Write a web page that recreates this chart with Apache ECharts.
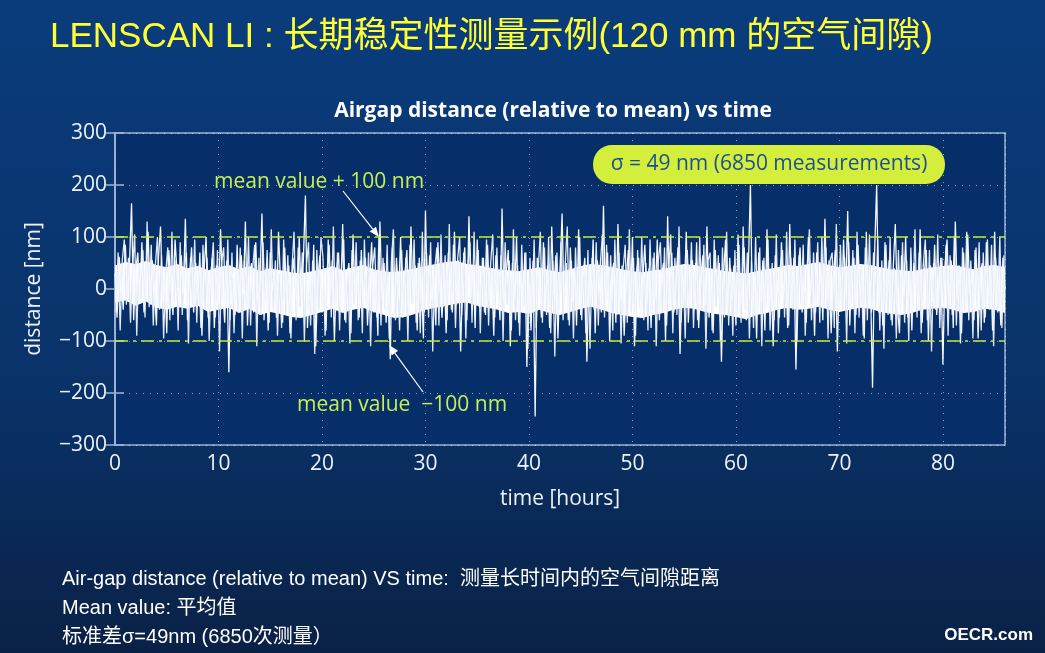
<!DOCTYPE html>
<html>
<head>
<meta charset="utf-8">
<script src="https://cdn.jsdelivr.net/npm/echarts@6/dist/echarts.min.js"></script>
<style>
html, body { margin: 0; padding: 0; background: #0a2d62; }
#chart { width: 1045px; height: 653px; }
</style>
</head>
<body>
<div id="chart"></div>
<script>
// 数据区, two interleaved sample sets (every 0.2 h, offset by 0.1 h)
const hoursPerSample = 0.2;
const distanceNm = [
  30, -55, 62, 10, -40, 85, -20, 48, 165, -60, 35, 70, -15, 90, -45, 25, 110, -30, 55, 5,
  -70, 60, 120, -25, 40, -85, 75, 15, -50, 95, 30, -35, 65, -10, 135, -60, 20, 80, -45, 50,
  -20, 70, -90, 35, 100, -55, 10, 60, -75, 45, -30, 115, 0, -65, 55, -160, 40, 20, -50, 85,
  -35, 65, -10, 130, -70, 25, 50, -45, 90, -25, 15, 145, -60, 40, -80, 70, -5, 35, -55, 110,
  10, -65, 80, -30, 45, -95, 60, 25, -40, 100, -20, 55, 180, -75, 30, -50, 85, -110, 20, 65,
  -45, 40, -80, 95, -15, 55, -100, 30, 70, -35, 125, -60, 15, 50, -85, 105, -25, 40, -55, 75,
  -30, 60, -70, 15, 90, -45, 35, -90, 130, -20, 50, -65, 25, -135, 80, -40, 60, -15, 100, -55,
  20, 75, -50, 120, -25, 45, -80, 60, 10, -95, 150, -40, 65, -20, 35, -70, 90, 5, -55, 40,
  -85, 70, 25, -45, 110, -30, 55, -120, 35, 80, -60, 140, -15, 45, -75, 95, -35, 20, 60, -50,
  85, -25, 40, -90, 65, 10, -60, 155, -40, 30, 75, -110, 50, -20, 100, -65, 35, -45, 70, -150,
  25, -80, 55, -245, 60, 15, -55, 90, -30, 45, -75, 120, -10, 65, -95, 30, 145, -40, 50, -60,
  80, -25, 35, -70, 115, -50, 20, 60, -140, 40, -15, 95, -85, 55, 10, -45, 160, -35, 70, -100,
  30, 50, -65, 125, -20, 45, -90, 15, 75, -40, 100, -110, 35, 60, -55, 20, 85, -30, 40, -75,
  60, -15, 95, -60, 25, 50, -100, 140, -35, 70, -45, 15, 80, -125, 40, -20, 110, -65, 30, 55,
  -40, 90, -75, 20, 65, -30, 120, -55, 35, -85, 75, -10, 50, -140, 25, 95, -45, 60, -20, 45,
  -70, 105, -35, 15, 80, -60, 40, 200, -50, 25, -95, 70, -25, 55, -80, 115, -40, 30, -110, 65,
  10, -55, 90, -20, 45, -75, 125, -35, 60, -155, 30, 80, -45, 20, -65, 100, -15, 50, -90, 70,
  -30, 40, -60, 135, -25, 55, -85, 20, 75, -120, 45, -40, 95, -10, 150, -70, 35, 60, -50, 85,
  -20, 45, -95, 110, -35, 15, -190, 70, 200, -45, 30, -70, 90, -25, 55, -60, 40, 125, -30, -85,
  65, -15, 100, -55, 35, -80, 50, 20, -40, 115, -65, 30, 75, -100, 45, -25, 85, -50, 10, 60,
  -145, 40, 95, -30, 55, -75, 130, -20, 45, -85, 70, -40, 105, -10, 35, -60, 80, -95, 25, 50,
  -65, 90, -30, 45, -80, 110, -40, 20, -70, 60, 0
];
const distanceNmB = [
  -45, 70, -80, 55, 95, -30, 60, -65, 40, 105, -90, 50, -20, 75, -55, 130, -35, 85, -70, 45,
  100, -40, 65, -95, 30, 80, -60, 110, -25, 55, -80, 90, -50, 40, 70, -105, 60, -30, 95, -65,
  45, -75, 85, -40, 60, -100, 35, 90, -55, 75, -120, 50, 80, -35, 95, -60, 70, -85, 40, -45,
  80, -95, 55, -30, 100, -70, 40, 85, -110, 60, -50, 90, -25, 75, -65, 115, -40, 55, -90, 30,
  -75, 95, -50, 65, -85, 40, 110, -60, 80, -35, 70, -100, 45, 90, -70, 55, -125, 75, -40, 100,
  60, -90, 35, 85, -55, 120, -45, 70, -80, 50, 95, -65, 40, -105, 75, -30, 90, -60, 55, -85,
  95, -35, 70, -110, 45, 80, -55, 100, -70, 60, -40, 85, -95, 50, 115, -60, 35, -80, 75, -45,
  60, -100, 85, -30, 95, -65, 50, -85, 110, -45, 70, -55, 90, -120, 40, 80, -70, 105, -35, 65,
  -60, 125, -40, 85, -75, 55, 100, -50, 70, -95, 45, 90, -65, 110, -30, 75, -85, 60, -45, 95,
  -70, 50, 105, -55, 80, -40, 65, -100, 90, -30, 55, -80, 115, -60, 45, -90, 85, -35, 70, -115,
  60, -45, 95, -75, 40, 110, -65, 80, -50, 100, -85, 55, -130, 70, -40, 90, -60, 45, 120, -70,
  55, -95, 80, -35, 100, -60, 45, -85, 75, -115, 60, -40, 90, -70, 50, 105, -55, 85, -30, 65,
  -80, 95, -50, 70, -105, 40, 85, -65, 115, -45, 60, -90, 75, -35, 100, -60, 50, -80, 95, -40,
  70, -110, 55, 90, -45, 80, -70, 35, 105, -85, 60, -50, 120, -65, 45, -95, 75, -30, 90, -75,
  50, -60, 100, -40, 85, -115, 55, 70, -80, 95, -35, 65, -100, 80, -55, 110, -70, 40, -90, 75,
  -50, 85, -65, 120, -40, 70, -95, 55, -75, 100, -45, 80, -110, 60, -35, 95, -80, 50, -60, 105,
  -85, 45, 75, -55, 110, -70, 60, -40, 95, -100, 65, -30, 85, -90, 50, 115, -60, 70, -45, 90,
  -65, 100, -35, 80, -95, 55, 70, -75, 125, -50, 85, -40, 60, -105, 90, -30, 75, -85, 110, -55,
  45, -90, 80, -60, 105, -45, 70, -35, 95, -80, 55, -115, 85, -50, 100, -70, 40, -95, 75, -40,
  90, -65, 55, -100, 80, -35, 115, -55, 70, -85, 45, 95, -60, 75, -120, 50, -40, 105, -75, 60,
  -30, 85, -90, 65, -50, 100, -70, 45, -105, 80, -40, 110, -60, 55, -95, 75, -35, 90, -80, 70,
  -55, 95, -40, 85, -110, 60, -45, 100, -75, 65
];
// dense white core of the trace, upper / lower edge, one reading per hour (0 .. 86 h)
const coreTopNm = [
  45, 52, 48, 54, 46, 42, 48, 40, 44, 36,
  42, 46, 38, 44, 34, 40, 36, 32, 30, 34,
  38, 44, 36, 42, 46, 38, 34, 32, 36, 40,
  44, 48, 52, 54, 48, 46, 42, 38, 36, 34,
  38, 42, 36, 32, 38, 44, 48, 46, 42, 38,
  34, 32, 36, 38, 44, 48, 46, 42, 38, 34,
  32, 30, 34, 38, 42, 46, 44, 48, 52, 46,
  42, 44, 48, 46, 42, 38, 36, 34, 38, 42,
  44, 46, 42, 38, 44, 46, 42
];
const coreBottomNm = [
  -26, -22, -32, -24, -36, -40, -34, -38, -32, -44,
  -40, -36, -46, -38, -50, -44, -48, -54, -56, -50,
  -44, -38, -46, -40, -36, -44, -50, -56, -54, -48,
  -40, -36, -32, -28, -26, -32, -36, -40, -46, -44,
  -48, -40, -46, -50, -44, -38, -34, -40, -46, -50,
  -54, -56, -50, -46, -40, -36, -38, -44, -48, -50,
  -54, -58, -50, -46, -40, -36, -40, -38, -34, -40,
  -44, -40, -36, -38, -44, -48, -50, -46, -40, -38,
  -36, -40, -46, -44, -38, -40, -46
];
const bandLevels = [100, -100];
const xRange = [0, 86];
const yRange = [-300, 300];

const pageTitle = 'LENSCAN LI : 长期稳定性测量示例(120 mm 的空气间隙)';
const chartTitle = 'Airgap distance (relative to mean) vs time';
const sigmaText = 'σ = 49 nm (6850 measurements)';
const upperNote = 'mean value + 100 nm';
const lowerNote = 'mean value  \u2212100 nm';
const footLines = [
  'Air-gap distance (relative to mean) VS time:  测量长时间内的空气间隙距离',
  'Mean value: 平均值',
  '标准差σ=49nm (6850次测量）'
];

const pointsA = distanceNm.map((v, i) => [+(i * hoursPerSample).toFixed(2), v]);
const pointsB = distanceNmB.map((v, i) => [+((i + 0.5) * hoursPerSample).toFixed(2), v]);
const coreTop = coreTopNm.map((v, i) => [i, v]);
const coreBottom = coreBottomNm.map((v, i) => [i, v]);

const chartFont = '"Open Sans", "Noto Sans", sans-serif';
const slideFont = '"Liberation Sans", "Noto Sans CJK SC", sans-serif';
const axisColor = '#9fb2d6';
const noteColor = '#c6ee55';

// 箭头
function arrow(x1, y1, x2, y2) {
  const dx = x2 - x1, dy = y2 - y1;
  const len = Math.sqrt(dx * dx + dy * dy);
  const ux = dx / len, uy = dy / len;
  const bx = x2 - ux * 10, by = y2 - uy * 10;
  return [
    { type: 'line', shape: { x1: x1, y1: y1, x2: bx, y2: by }, style: { stroke: '#ffffff', lineWidth: 1.2 } },
    { type: 'polygon', shape: { points: [[x2, y2], [bx - uy * 4, by + ux * 4], [bx + uy * 4, by - ux * 4]] }, style: { fill: '#ffffff' } }
  ];
}

const chart = echarts.init(document.getElementById('chart'));

const minusFmt = v => String(v).replace('-', '\u2212');

// core band: two white areas that both fill to zero, under the traces
const coreSeries = [coreTop, coreBottom].map(d => ({
  type: 'line', data: d, showSymbol: false, silent: true, z: 2,
  lineStyle: { width: 0 },
  areaStyle: { color: '#ffffff', opacity: 1, origin: 0 }
}));

const traceSeries = [pointsB, pointsA].map((d, k) => ({
  type: 'line', data: d, showSymbol: false, silent: true, z: 3,
  lineStyle: { color: k ? '#f4f7fc' : '#e2e9f5', width: 1.3 }
}));

traceSeries[1].markLine = {
  silent: true, symbol: 'none', label: { show: false },
  lineStyle: { color: '#c8ec3a', width: 1.6, type: [13, 5, 3, 5] },
  data: bandLevels.map(v => ({ yAxis: v }))
};

const option = {
  animation: false,
  backgroundColor: {
    type: 'linear', x: 0, y: 0, x2: 0, y2: 1,
    colorStops: [
      { offset: 0, color: '#0a3c7c' },
      { offset: 0.6, color: '#093268' },
      { offset: 1, color: '#0a2146' }
    ]
  },
  title: {
    text: chartTitle,
    left: 548, top: 96, textAlign: 'center',
    textStyle: { color: '#ffffff', fontFamily: chartFont, fontWeight: 'bold', fontSize: 21 }
  },
  grid: {
    left: 115, top: 133, width: 890, height: 312,
    show: true, backgroundColor: '#062f69', borderColor: axisColor, borderWidth: 1.5
  },
  xAxis: [{
    type: 'value', min: xRange[0], max: xRange[1], interval: 10,
    name: 'time [hours]', nameLocation: 'middle', nameGap: 44,
    nameTextStyle: { color: '#eef2f8', fontFamily: chartFont, fontSize: 21 },
    axisLine: { show: true, lineStyle: { color: axisColor, width: 1.5 } },
    axisTick: { show: true, inside: true, length: 9, lineStyle: { color: axisColor, width: 1.5 } },
    axisLabel: { color: '#eef2f8', fontFamily: chartFont, fontSize: 21, margin: 9, showMaxLabel: false },
    splitLine: { show: true, lineStyle: { color: 'rgba(255,255,255,0.55)', type: [1, 6], width: 1 } }
  }, {
    type: 'value', position: 'top', min: xRange[0], max: xRange[1], interval: 10,
    axisLine: { show: true, lineStyle: { color: axisColor, width: 1.5 } },
    axisTick: { show: true, inside: true, length: 9, lineStyle: { color: axisColor, width: 1.5 } },
    axisLabel: { show: false }, splitLine: { show: false }
  }],
  yAxis: [{
    type: 'value', min: yRange[0], max: yRange[1], interval: 100,
    name: 'distance [nm]', nameLocation: 'middle', nameGap: 70, nameRotate: 90,
    nameTextStyle: { color: '#eef2f8', fontFamily: chartFont, fontSize: 21 },
    axisLine: { show: true, lineStyle: { color: axisColor, width: 1.5 } },
    axisTick: { show: true, inside: true, length: 9, lineStyle: { color: axisColor, width: 1.5 } },
    axisLabel: { color: '#eef2f8', fontFamily: chartFont, fontSize: 21, margin: 8, formatter: minusFmt },
    splitLine: { show: true, lineStyle: { color: 'rgba(255,255,255,0.55)', type: [1, 6], width: 1 } }
  }, {
    type: 'value', position: 'right', min: yRange[0], max: yRange[1], interval: 100,
    axisLine: { show: true, lineStyle: { color: axisColor, width: 1.5 } },
    axisTick: { show: true, inside: true, length: 9, lineStyle: { color: axisColor, width: 1.5 } },
    axisLabel: { show: false }, splitLine: { show: false }
  }],
  series: coreSeries.concat(traceSeries),
  graphic: [
    {
      type: 'text', left: 50, top: 20,
      style: { text: pageTitle, fill: '#ffff33', font: '35px ' + slideFont }
    },
    {
      type: 'rect', shape: { x: 593, y: 145, width: 352, height: 39, r: 19 },
      style: { fill: '#d3ef3c' }, z: 10
    },
    {
      type: 'text', x: 769, y: 164, z: 11,
      style: { text: sigmaText, fill: '#1d4f93', font: '21px ' + chartFont, align: 'center', verticalAlign: 'middle' }
    },
    {
      type: 'text', x: 214, y: 182, z: 11,
      style: { text: upperNote, fill: noteColor, font: '21px ' + chartFont, verticalAlign: 'middle' }
    },
    {
      type: 'text', x: 297, y: 405, z: 11,
      style: { text: lowerNote, fill: noteColor, font: '21px ' + chartFont, verticalAlign: 'middle' }
    },
    { type: 'group', z: 11, children: arrow(343, 191, 379, 237).concat(arrow(423, 392, 389, 345)) },
    ...footLines.map((t, i) => ({
      type: 'text', left: 62, top: 569 + i * 29,
      style: { text: t, fill: '#ffffff', font: '20px ' + slideFont }
    })),
    {
      type: 'text', right: 12, top: 627,
      style: { text: 'OECR.com', fill: '#ffffff', font: 'bold 17px ' + slideFont }
    }
  ]
};

chart.setOption(option);
</script>
</body>
</html>
